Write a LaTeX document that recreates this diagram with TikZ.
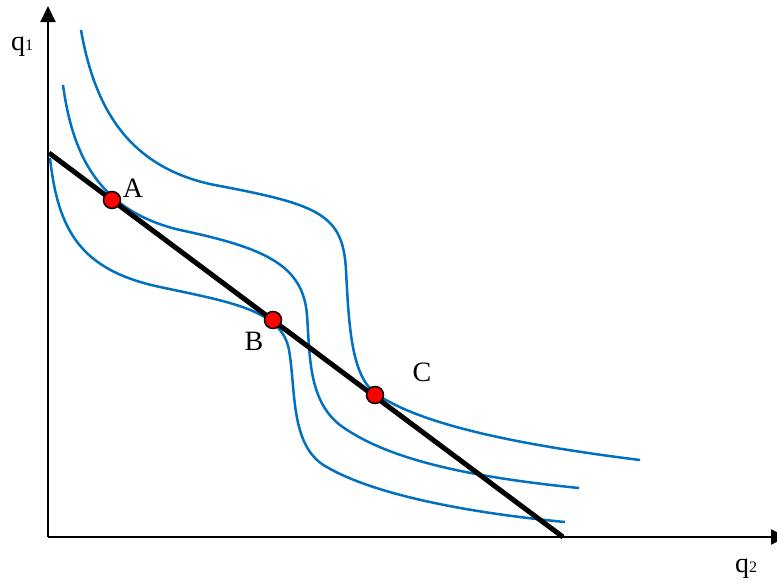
\documentclass[tikz,border=0pt]{standalone}
\usepackage{fontspec}
\setmainfont{Liberation Serif}
\usetikzlibrary{arrows.meta}
\definecolor{qblue}{RGB}{0,112,192}

\begin{document}
\begin{tikzpicture}[x=1pt, y=-1pt, circ/.style={draw, circle, fill=red, line width=1.5pt, inner sep=0pt, minimum size=17pt}, lbl/.style={inner sep=0pt, font=\fontsize{28}{32}\selectfont}, icurve/.style={draw=qblue, line width=2.5pt}]
            \useasboundingbox (0,0) rectangle (777,584);
            \coordinate (O) at (48,537); \coordinate (ytop) at (48,6); \coordinate (xend) at (787,537);
            \draw[line width=2pt, -{Triangle[length=16pt, width=15pt]}] (O) -- (ytop);
            \draw[line width=2pt, -{Triangle[length=16pt, width=15pt]}] (O) -- (xend);
            \node[lbl] (q1) at (22,47) {q{\fontsize{16}{16}\selectfont 1}}; \node[lbl] (q2) at (746,569) {q{\fontsize{16}{16}\selectfont 2}};
            % indifference curves
            \draw[icurve] (50,158) .. controls (58,230) and (80,270) .. (160,287) .. controls (230,302) and (282,310) .. (289,350) .. controls (296,390) and (290,445) .. (325,466) .. controls (370,493) and (460,512) .. (565,522);
            \draw[icurve] (63,85) .. controls (72,150) and (95,210) .. (180,230) .. controls (265,248) and (303,265) .. (307,315) .. controls (310,355) and (308,400) .. (340,425) .. controls (390,462) and (480,478) .. (579,488);
            \draw[icurve] (81,30) .. controls (95,110) and (130,170) .. (220,186) .. controls (320,205) and (343,215) .. (346,270) .. controls (349,330) and (352,375) .. (375,393) .. controls (420,425) and (520,445) .. (640,460);
            % budget line
            \coordinate (bl) at (49,153); \coordinate (br) at (563,537);
            \draw[line width=5pt] (bl) -- (br);
            \node[circ] (A) at (112,200) {}; \node[circ] (B) at (273,320) {}; \node[circ] (C) at (375,395) {};
            \node[lbl] (Alab) at (133,188) {A}; \node[lbl] (Blab) at (254,341) {B}; \node[lbl] (Clab) at (422,372) {C};
        \end{tikzpicture}
\end{document}
